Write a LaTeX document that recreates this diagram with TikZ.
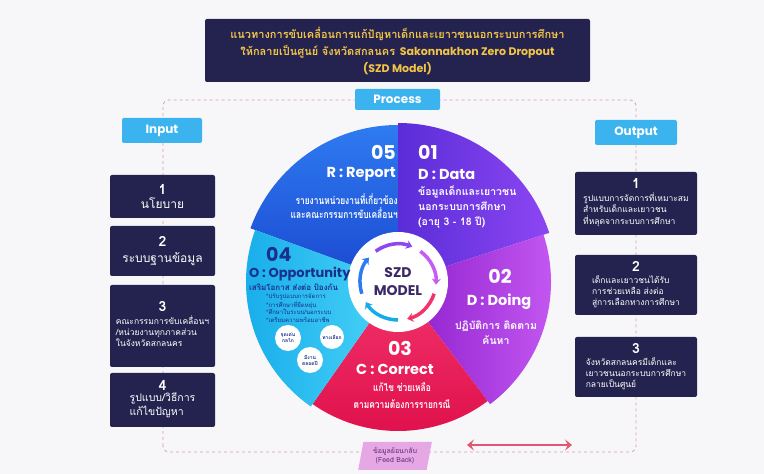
\documentclass[tikz,border=0pt]{standalone}
\usepackage{fontspec}
\setmainfont{Poppins}
\newfontfamily\thai[Script=Thai]{Loma}
\newfontfamily\thaic[Script=Thai,FakeStretch=0.8]{Loma}
\usetikzlibrary{arrows.meta,shapes.geometric}
\definecolor{bg}{HTML}{F7F7F9}
\definecolor{navy}{HTML}{24234F}
\definecolor{gold}{HTML}{F3C546}
\definecolor{sky}{HTML}{3BB3EF}
\definecolor{framec}{HTML}{D2A3AC}
\definecolor{ink}{HTML}{1B2F8C}
\definecolor{hubink}{HTML}{3A2966}
\definecolor{blueA}{HTML}{1B48D0}
\definecolor{blueB}{HTML}{2E7BF1}
\definecolor{violA}{HTML}{5A2DD8}
\definecolor{violB}{HTML}{8C46F2}
\definecolor{purpA}{HTML}{8C1DCC}
\definecolor{purpB}{HTML}{C75BF3}
\definecolor{pinkA}{HTML}{F2346C}
\definecolor{pinkB}{HTML}{DF0F4B}
\definecolor{cyanA}{HTML}{15ABE9}
\definecolor{cyanB}{HTML}{4AD4F8}
\definecolor{fbfill}{HTML}{E6A8E4}
\definecolor{fbink}{HTML}{5A2A78}
\definecolor{fbline}{HTML}{E05673}
\newcommand{\bnum}{\fontsize{14}{15}\selectfont\bfseries}
\newcommand{\bbig}{\thai\fontsize{12}{14}\selectfont}
\newcommand{\bsmall}{\thai\fontsize{8.5}{11}\selectfont}
\newcommand{\lines}[1]{\begin{tabular}{@{}l@{}}#1\end{tabular}}
\tikzset{
  titlebox/.style={fill=navy, rounded corners=2pt, text=gold, align=center,
    minimum width=385pt, minimum height=63pt, font=\fontsize{11}{17}\selectfont\bfseries},
  box/.style={fill=navy, rounded corners=2pt, text=white, align=center, inner sep=2pt},
  inbox/.style={box, minimum width=105pt},
  outbox/.style={box, minimum width=122pt, font=\bsmall},
  tab/.style={fill=sky, rounded corners=2pt, text=white, font=\fontsize{12}{14}\selectfont\bfseries},
  frame/.style={draw=framec, dashed, line width=0.8pt, rounded corners=6pt},
  segnum/.style={text=white, font=\fontsize{19}{20}\selectfont\bfseries, inner sep=0pt},
  seghead/.style={text=white, font=\fontsize{14.5}{16}\selectfont\bfseries, inner sep=0pt},
  segtext/.style={text=white, font=\thai\fontsize{10.5}{15}\selectfont\bfseries, inner sep=0pt},
  ring/.style={line width=3.5pt, -{Stealth[length=6pt,width=9pt]}},
  bubble/.style={circle, fill=white, text=ink, align=center, inner sep=0pt,
    font=\thai\fontsize{5}{6}\selectfont\bfseries},
}

\begin{document}
\begin{tikzpicture}[x=1pt,y=1pt]
  \useasboundingbox[fill=bg] (0,0) rectangle (764,474);
  \coordinate (C) at (398,192);

  \draw[frame] (163,22) rectangle (636,374);

  \node[titlebox] (title) at (397.5,423.5)
    {{\thai แนวทางการขับเคลื่อนการแก้ปัญหาเด็กและเยาวชนนอกระบบการศึกษา}\\
     {\thai ให้กลายเป็นศูนย์ จังหวัดสกลนคร}\ \ Sakonnakhon Zero Dropout\\
     (SZD Model)};
  \node[tab, minimum width=85pt, minimum height=21pt] (process) at (397.5,374.5) {Process};
  \node[tab, minimum width=80pt, minimum height=25pt] (input) at (162,343.5) {Input};
  \node[tab, minimum width=82pt, minimum height=25pt] (output) at (636,341.5) {Output};

  % input column
  \node[inbox, minimum height=43pt, font=\bbig] (in1) at (162.5,277.5) {{\bnum 1}\\นโยบาย};
  \node[inbox, minimum height=50pt, font=\bbig] (in2) at (162.5,223) {{\bnum 2}\\[2pt]ระบบฐานข้อมูล};
  \node[inbox, minimum height=82pt, font=\bsmall] (in3) at (162.5,148)
    {{\bnum 3}\\[3pt]\lines{คณะกรรมการขับเคลื่อนฯ\\/หน่วยงานทุกภาคส่วน\\ในจังหวัดสกลนคร}};
  \node[inbox, minimum height=54pt, font=\thai\fontsize{10.5}{13}\selectfont] (in4) at (162.5,74)
    {{\bnum 4}\\[1pt]\lines{รูปแบบ/วิธีการ\\แก้ไขปัญหา}};

  % output column
  \node[outbox, minimum height=63pt] (out1) at (636,270.5)
    {{\bnum 1}\\[3pt]\lines{รูปแบบการจัดการที่เหมาะสม\\สำหรับเด็กและเยาวชน\\ที่หลุดจากระบบการศึกษา}};
  \node[outbox, minimum height=60pt] (out2) at (636,189)
    {{\bnum 2}\\[3pt]\lines{เด็กและเยาวชนได้รับ\\การช่วยเหลือ ส่งต่อ\\สู่การเลือกทางการศึกษา}};
  \node[outbox, minimum height=60pt] (out3) at (636,107)
    {{\bnum 3}\\[3pt]\lines{จังหวัดสกลนครมีเด็กและ\\เยาวชนนอกระบบการศึกษา\\กลายเป็นศูนย์}};

  % wheel
  \shade[top color=blueB, bottom color=blueA] (C) -- ++(160:157) arc[start angle=160, end angle=90, radius=157] -- cycle;
  \shade[left color=violA, right color=violB] (C) -- ++(90:159) arc[start angle=90, end angle=18, radius=159] -- cycle;
  \shade[left color=purpA, right color=purpB] (C) -- ++(18:153) arc[start angle=18, end angle=-53, radius=153] -- cycle;
  \shade[top color=pinkA, bottom color=pinkB] (C) -- ++(-53:149) arc[start angle=-53, end angle=-125, radius=149] -- cycle;
  \shade[left color=cyanA, right color=cyanB] (C) -- ++(-125:152) arc[start angle=-125, end angle=-200, radius=152] -- cycle;

  \fill[white] (C) circle (50);
  \foreach \a/\c in {198/blueB, 126/violB, 54/purpB, -18/pinkA, -90/cyanA}
    \draw[ring, \c] ([shift={(\a:38)}]C) arc[start angle=\a, end angle=\a-58, radius=38];
  \node[text=hubink, align=center, font=\fontsize{14}{18}\selectfont\bfseries] (hub) at (C) {SZD\\MODEL};

  \node[segnum, anchor=east] (n05) at (396,322) {05};
  \node[seghead, anchor=east] (h05) at (396,300) {R : Report};
  \node[segtext, anchor=east, align=right, font=\thaic\fontsize{10.5}{14}\selectfont\bfseries] (t05) at (398,268)
    {รายงานหน่วยงานที่เกี่ยวข้อง\\และคณะกรรมการขับเคลื่อนฯ};

  \node[segnum, anchor=west] (n01) at (418,322) {01};
  \node[seghead, anchor=west] (h01) at (418,300) {D : Data};
  \node[segtext, anchor=west, align=left] (t01) at (418,267) {ข้อมูลเด็กและเยาวชน\\นอกระบบการศึกษา\\(อายุ 3 - 18 ปี)};

  \node[segnum] (n02) at (500,198) {02};
  \node[seghead] (h02) at (499,172) {D : Doing};
  \node[segtext, align=center] (t02) at (496,141) {ปฏิบัติการ ติดตาม\\ค้นหา};

  \node[segnum] (n03) at (400,126) {03};
  \node[seghead] (h03) at (395,105) {C : Correct};
  \node[segtext, align=center, font=\thaic\fontsize{10.5}{17}\selectfont\bfseries] (t03) at (402,78)
    {แก้ไข ช่วยเหลือ\\ตามความต้องการรายกรณี};

  \node[segnum, text=ink, anchor=west] (n04) at (266,220) {04};
  \node[seghead, text=ink, anchor=west, font=\fontsize{13}{15}\selectfont\bfseries] (h04) at (249,200) {O : Opportunity};
  \node[segtext, text=ink, anchor=west, font=\thai\fontsize{8}{10}\selectfont\bfseries] (t04) at (249,187) {เสริมโอกาส ส่งต่อ ป้องกัน};
  \node[segtext, text=ink, anchor=west, align=left, font=\thai\fontsize{6}{7.7}\selectfont] (l04) at (266,166)
    {*ปรับรูปแบบการจัดการ\\*การศึกษาที่ยืดหยุ่น\\*ศึกษาในระบบ/นอกระบบ\\*เตรียมความพร้อมอาชีพ};
  \node[bubble, minimum size=26pt] (b1) at (288,136) {จุดเด่น\\กลไก};
  \node[bubble, minimum size=24pt] (b2) at (332,137) {ทางเลือก};
  \node[bubble, minimum size=26pt] (b3) at (310,114) {มีงาน\\ตลอดปี};

  % feed back
  \node[trapezium, trapezium left angle=78, trapezium right angle=102, trapezium stretches=true,
    fill=fbfill, text=fbink, align=center, minimum width=74pt, minimum height=28pt, inner sep=1pt,
    font=\thai\fontsize{7}{8.5}\selectfont] (feedback) at (395,18) {ข้อมูลย้อนกลับ\\(Feed Back)};
  \coordinate (fbL) at (467,29);
  \coordinate (fbR) at (572,29);
  \draw[fbline, line width=2.5pt, {Stealth[length=7pt,width=11pt,inset=3pt]}-{Stealth[length=7pt,width=11pt,inset=3pt]}] (fbL) -- (fbR);
\end{tikzpicture}
\end{document}
